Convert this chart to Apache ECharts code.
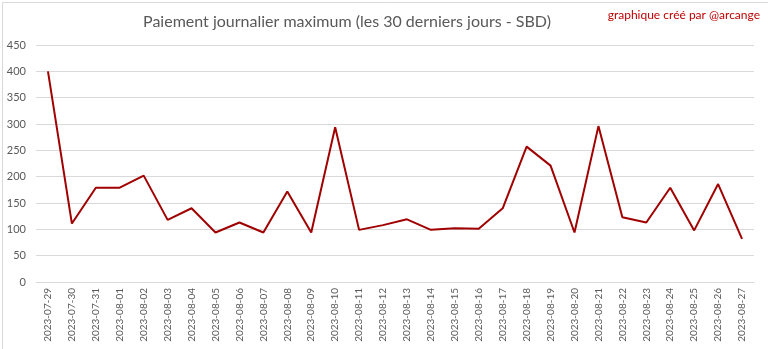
<!DOCTYPE html>
<html>
<head>
<meta charset="utf-8">
<script src="https://cdn.jsdelivr.net/npm/echarts@6/dist/echarts.min.js"></script>
<style>
  html, body { margin: 0; padding: 0; background: #fff; }
  #chart { width: 768px; height: 349px; }
</style>
</head>
<body>
<div id="chart"></div>
<script>
// Daily dates (last 30 days)
const dates = [
  '2023-07-29','2023-07-30','2023-07-31','2023-08-01','2023-08-02','2023-08-03',
  '2023-08-04','2023-08-05','2023-08-06','2023-08-07','2023-08-08','2023-08-09',
  '2023-08-10','2023-08-11','2023-08-12','2023-08-13','2023-08-14','2023-08-15',
  '2023-08-16','2023-08-17','2023-08-18','2023-08-19','2023-08-20','2023-08-21',
  '2023-08-22','2023-08-23','2023-08-24','2023-08-25','2023-08-26','2023-08-27'
];
// Maximum daily payout (SBD)
const maxPayout = [
  400, 111, 179, 179, 202, 118,
  140, 94, 113, 94, 172, 94,
  294, 99, 108, 119, 99, 102,
  101, 140, 257, 221, 94, 296,
  123, 113, 179, 98, 186, 82
];
const yTicks = { min: 0, max: 450, step: 50 };

const chart = echarts.init(document.getElementById('chart'));
const fontFamily = 'Lato, "Open Sans", sans-serif';

chart.setOption({
  animation: false,
  backgroundColor: '#ffffff',
  textStyle: { fontFamily },
  title: {
    text: 'Paiement journalier maximum (les 30 derniers jours - SBD)',
    left: 342, textAlign: 'center', top: 9,
    textStyle: { fontFamily, fontSize: 16, fontWeight: 'normal', color: '#595959' }
  },
  graphic: [
    {
      type: 'text', right: 8, top: 9,
      style: { text: 'graphique créé par @arcange', fontFamily, fontSize: 12, fill: '#c00000' }
    },
    {
      type: 'rect', left: 0, top: 0,
      shape: { x: 0.5, y: 0.5, width: 767, height: 348 },
      style: { fill: 'none', stroke: '#d9d9d9', lineWidth: 1 }
    }
  ],
  grid: { left: 36, right: 14, top: 45, bottom: 67, containLabel: false },
  xAxis: {
    type: 'category',
    data: dates,
    boundaryGap: true,
    axisLine: { lineStyle: { color: '#d9d9d9' } },
    axisTick: { show: false },
    axisLabel: { rotate: 90, interval: 0, fontSize: 10, color: '#595959', margin: 6, fontFamily }
  },
  yAxis: {
    type: 'value',
    min: yTicks.min, max: yTicks.max, interval: yTicks.step,
    axisLine: { show: false },
    axisTick: { show: false },
    axisLabel: { fontSize: 11, color: '#595959', margin: 10, fontFamily },
    splitLine: { lineStyle: { color: '#d9d9d9', width: 1 } }
  },
  series: [{
    type: 'line',
    data: maxPayout,
    showSymbol: false,
    lineStyle: { color: '#a00000', width: 2 },
    itemStyle: { color: '#a00000' }
  }]
});
</script>
</body>
</html>
